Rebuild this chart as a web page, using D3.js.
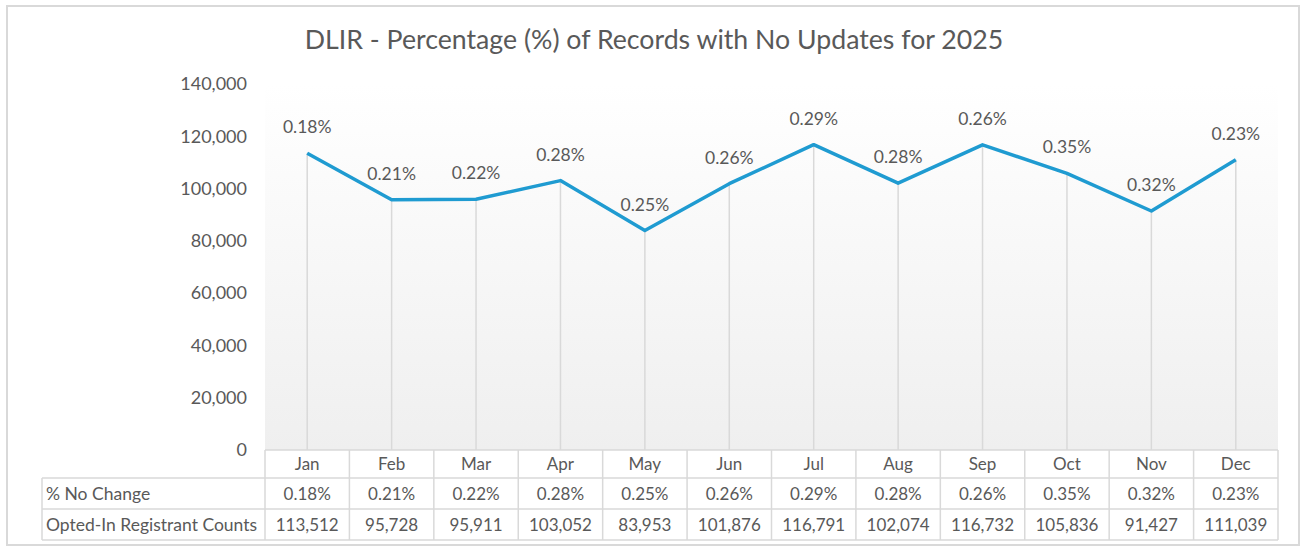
<!DOCTYPE html>
<html>
<head>
<meta charset="utf-8">
<script src="https://d3js.org/d3.v7.min.js"></script>
<style>
  body { margin: 0; background: #fff; }
  text { font-family: Lato, "Open Sans", sans-serif; fill: #595959; }
</style>
</head>
<body>
<script>
// Chart data
var months = ["Jan", "Feb", "Mar", "Apr", "May", "Jun", "Jul", "Aug", "Sep", "Oct", "Nov", "Dec"];
var pctNoChange = [0.18, 0.21, 0.22, 0.28, 0.25, 0.26, 0.29, 0.28, 0.26, 0.35, 0.32, 0.23];
var registrantCounts = [113512, 95728, 95911, 103052, 83953, 101876, 116791, 102074, 116732, 105836, 91427, 111039];
var yTicks = [0, 20000, 40000, 60000, 80000, 100000, 120000, 140000];
var rowLabels = ["% No Change", "Opted-In Registrant  Counts"];

var titleText = "DLIR - Percentage (%) of Records with No Updates for 2025";

// Chart Params
var svgWidth = 1301;
var svgHeight = 548;

var plot = { left: 265, right: 1278, top: 84, bottom: 450 };
var tableLeft = 42;
var rowEdges = [450, 478, 509, 540];

var svg = d3.select("body")
  .append("svg")
  .attr("width", svgWidth)
  .attr("height", svgHeight);

// Outer chart border
svg.append("rect")
  .attr("x", 7)
  .attr("y", 6)
  .attr("width", 1292)
  .attr("height", 539)
  .attr("fill", "#fff")
  .attr("stroke", "#d9d9d9")
  .attr("stroke-width", 2);

// Plot area gradient
var grad = svg.append("defs").append("linearGradient")
  .attr("id", "plotGrad")
  .attr("x1", 0).attr("y1", 0)
  .attr("x2", 0).attr("y2", 1);
grad.append("stop").attr("offset", "0%").attr("stop-color", "#ffffff");
grad.append("stop").attr("offset", "100%").attr("stop-color", "#efefef");

// Scales
var xScale = d3.scaleBand()
  .domain(months)
  .range([plot.left, plot.right]);

var yScale = d3.scaleLinear()
  .domain([0, 140000])
  .range([plot.bottom, plot.top]);

var cx = d => xScale(d) + xScale.bandwidth() / 2;

svg.append("rect")
  .attr("x", plot.left)
  .attr("y", yScale(140000))
  .attr("width", plot.right - plot.left)
  .attr("height", yScale(0) - yScale(140000))
  .attr("fill", "url(#plotGrad)");

// Title
svg.append("text")
  .attr("x", 654)
  .attr("y", 49)
  .attr("text-anchor", "middle")
  .style("font-size", "26.7px")
  .text(titleText);

// Y axis labels (no axis line)
var leftAxis = d3.axisLeft(yScale)
  .tickValues(yTicks)
  .tickSize(0)
  .tickPadding(18)
  .tickFormat(d3.format(","));

var yAxisG = svg.append("g")
  .attr("transform", `translate(${plot.left}, 0)`)
  .call(leftAxis);
yAxisG.select(".domain").remove();
yAxisG.selectAll("text")
  .style("font-size", "18px")
  .style("font-family", "Lato, sans-serif")
  .attr("fill", "#595959");

// Drop lines
svg.append("g")
  .selectAll("line")
  .data(months)
  .enter()
  .append("line")
  .attr("x1", d => cx(d))
  .attr("x2", d => cx(d))
  .attr("y1", (d, i) => yScale(registrantCounts[i]))
  .attr("y2", plot.bottom)
  .attr("stroke", "#d9d9d9")
  .attr("stroke-width", 1.5);

// Line
var line = d3.line()
  .x((d, i) => cx(months[i]))
  .y(d => yScale(d));

svg.append("path")
  .datum(registrantCounts)
  .attr("d", line)
  .attr("fill", "none")
  .attr("stroke", "#1f9bd1")
  .attr("stroke-width", 3.5)
  .attr("stroke-linejoin", "round");

// Data labels
svg.append("g")
  .selectAll("text")
  .data(pctNoChange)
  .enter()
  .append("text")
  .attr("x", (d, i) => cx(months[i]))
  .attr("y", (d, i) => yScale(registrantCounts[i]) - 20)
  .attr("text-anchor", "middle")
  .style("font-size", "17.5px")
  .text(d => d.toFixed(2) + "%");

// Data table
var table = svg.append("g");
var gridColor = "#d9d9d9";

// horizontal rules
rowEdges.forEach(function (y, i) {
  table.append("line")
    .attr("x1", i === 0 ? plot.left : tableLeft)
    .attr("x2", plot.right)
    .attr("y1", y)
    .attr("y2", y)
    .attr("stroke", gridColor)
    .attr("stroke-width", 1.5);
});

// vertical rules
table.append("line")
  .attr("x1", tableLeft).attr("x2", tableLeft)
  .attr("y1", rowEdges[1]).attr("y2", rowEdges[3])
  .attr("stroke", gridColor).attr("stroke-width", 1.5);

months.concat(["end"]).forEach(function (m, i) {
  var x = i < months.length ? xScale(m) : plot.right;
  table.append("line")
    .attr("x1", x).attr("x2", x)
    .attr("y1", rowEdges[0]).attr("y2", rowEdges[3])
    .attr("stroke", gridColor).attr("stroke-width", 1.5);
});

// header row
table.selectAll(".month")
  .data(months)
  .enter()
  .append("text")
  .attr("class", "month")
  .attr("x", d => cx(d))
  .attr("y", (rowEdges[0] + rowEdges[1]) / 2 + 6)
  .attr("text-anchor", "middle")
  .style("font-size", "17px")
  .text(d => d);

// row labels
rowLabels.forEach(function (label, r) {
  table.append("text")
    .attr("x", tableLeft + 4)
    .attr("y", (rowEdges[r + 1] + rowEdges[r + 2]) / 2 + 6)
    .style("font-size", "17.5px")
    .text(label);
});

// row values
var rows = [pctNoChange.map(d => d.toFixed(2) + "%"), registrantCounts.map(d3.format(","))];
rows.forEach(function (vals, r) {
  table.selectAll(".row" + r)
    .data(vals)
    .enter()
    .append("text")
    .attr("class", "row" + r)
    .attr("x", (d, i) => cx(months[i]))
    .attr("y", (rowEdges[r + 1] + rowEdges[r + 2]) / 2 + 6)
    .attr("text-anchor", "middle")
    .style("font-size", "17px")
    .text(d => d);
});
</script>
</body>
</html>
